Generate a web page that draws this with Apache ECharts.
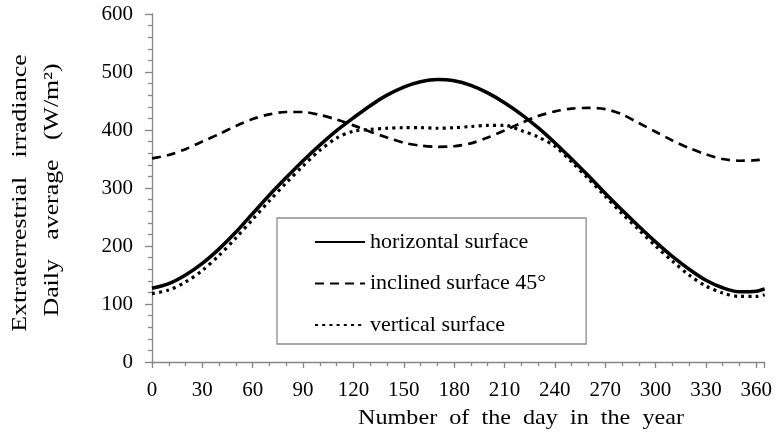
<!DOCTYPE html>
<html>
<head>
<meta charset="utf-8">
<script src="https://cdn.jsdelivr.net/npm/echarts@6/dist/echarts.min.js"></script>
<style>html,body{margin:0;padding:0;background:#fff}#c{width:775px;height:438px}</style>
</head>
<body>
<div id="c"></div>
<script>
var days       = [0,10,20,30,40,50,60,70,80,90,100,110,120,130,140,150,160,170,180,190,200,210,220,230,240,250,260,270,280,290,300,310,320,330,340,350,360,365];
var horizontal = [127,135,150,170,195,224,256,288,318,347,374,399,421,442,460,474,483,487,485,477,464,447,427,404,378,350,321,291,262,234,207,182,160,141,128,121,122,126];
var inclined   = [351,357,367,380,393,407,419,427,431,431,426,418,408,397,387,378,373,371,372,377,387,399,412,424,432,437,438,436,427,412,397,382,369,358,350,347,348,351];
var vertical   = [118,124,138,158,184,214,246,278,309,338,365,386,398,401,403,404,404,403,404,406,408,408,399,388,372,345,316,286,256,228,200,174,150,131,119,113,113,116];
var seriesNames = ['horizontal surface','inclined surface 45°','vertical surface'];
var xTitle = 'Number  of  the  day  in  the  year';
var yTitle1 = 'Extraterrestrial   irradiance';
var yTitle2 = 'Daily   average   (W/m²)';

function pairs(vals){ return days.map(function(d,i){ return [d, vals[i]]; }); }
var FONT = '"Liberation Serif","Times New Roman",serif';
var chart = echarts.init(document.getElementById('c'), null, {renderer:'canvas'});
var axisCol = '#868686';
chart.setOption({
  animation:false,
  backgroundColor:'#fff',
  grid:{left:152, right:9, top:14, bottom:76, containLabel:false},
  xAxis:{
    type:'value', min:0, max:365, interval:30,
    axisLine:{show:true, onZero:false, lineStyle:{color:axisCol, width:1.3}},
    axisTick:{show:true, inside:false, length:6, lineStyle:{color:axisCol, width:1.3}},
    minorTick:{show:true, splitNumber:3, length:4, lineStyle:{color:axisCol, width:1.3}},
    splitLine:{show:false},
    axisLabel:{color:'#000', fontFamily:FONT, fontSize:21, margin:18, showMaxLabel:false}
  },
  yAxis:{
    type:'value', min:0, max:600, interval:100,
    axisLine:{show:true, lineStyle:{color:axisCol, width:1.3}},
    axisTick:{show:true, inside:false, length:7, lineStyle:{color:axisCol, width:1.3}},
    minorTick:{show:true, splitNumber:5, length:4, lineStyle:{color:axisCol, width:1.3}},
    splitLine:{show:false},
    axisLabel:{color:'#000', fontFamily:FONT, fontSize:21, margin:19}
  },
  legend:{
    orient:'vertical', left:277, top:218,
    data:seriesNames,
    itemWidth:50, itemHeight:14, itemGap:19.5,
    padding:[13,40,8,37],
    borderColor:'#8c8c8c', borderWidth:1.3, backgroundColor:'#fff',
    itemStyle:{opacity:0},
    textStyle:{color:'#000', fontFamily:FONT, fontSize:22, lineHeight:22},
    z:10
  },
  series:[
    {name:seriesNames[0], type:'line', data:pairs(horizontal), smooth:0.3, symbol:'none', showSymbol:false,
     lineStyle:{color:'#000', width:3.6, type:'solid'}, itemStyle:{color:'#000'}, z:3},
    {name:seriesNames[1], type:'line', data:pairs(inclined), smooth:0.3, symbol:'none', showSymbol:false,
     lineStyle:{color:'#000', width:2.7, type:[9,6]}, itemStyle:{color:'#000'}, z:2},
    {name:seriesNames[2], type:'line', data:pairs(vertical), smooth:0.3, symbol:'none', showSymbol:false,
     lineStyle:{color:'#000', width:3.2, type:[3,4.2]}, itemStyle:{color:'#000'}, z:2}
  ],
  graphic:[
    {type:'text', x:521, y:418, scaleX:1.15, style:{text:xTitle, fill:'#000', font:'21px '+FONT, align:'center', verticalAlign:'middle'}},
    {type:'text', x:20, y:193, rotation:Math.PI/2, scaleX:1.23, style:{text:yTitle1, fill:'#000', font:'21px '+FONT, align:'center', verticalAlign:'middle'}},
    {type:'text', x:52, y:190, rotation:Math.PI/2, scaleX:1.23, style:{text:yTitle2, fill:'#000', font:'21px '+FONT, align:'center', verticalAlign:'middle'}}
  ]
});
</script>
</body>
</html>
